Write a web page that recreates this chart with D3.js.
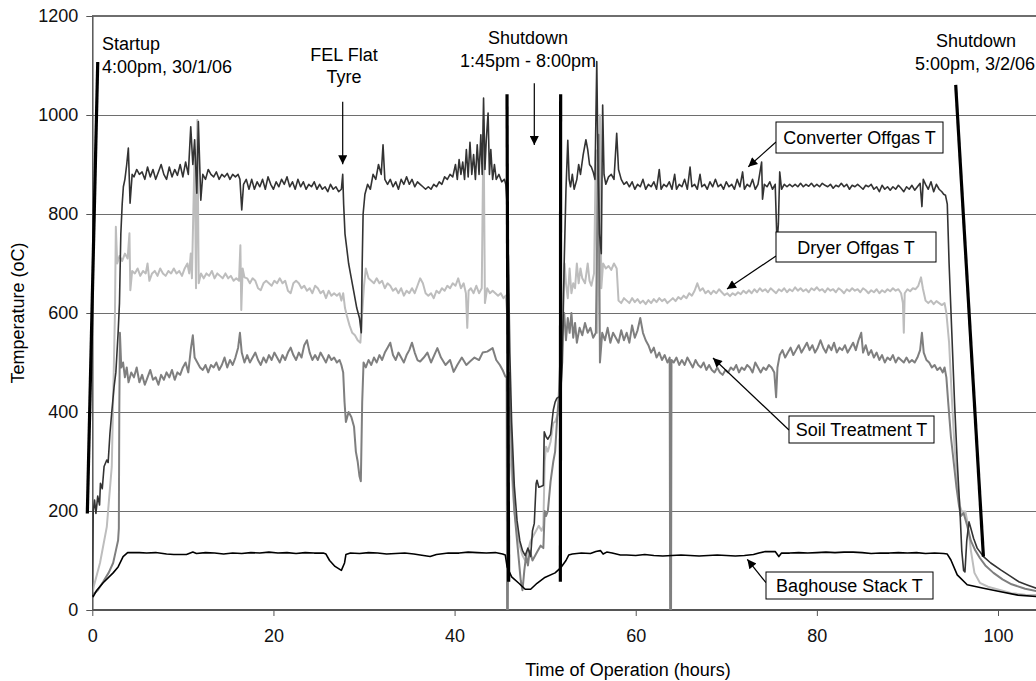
<!DOCTYPE html>
<html>
<head>
<meta charset="utf-8">
<script src="https://cdn.jsdelivr.net/npm/d3@7"></script>
<style>
html,body{margin:0;padding:0;background:#fff;}
svg{display:block;}
text{font-family:"Liberation Sans",Arial,sans-serif;}
</style>
</head>
<body>
<svg id="chart" width="1036" height="681"></svg>
<script>
// ---------------- DATA (hours, °C) ----------------
const yTicks = [0, 200, 400, 600, 800, 1000, 1200];
const xTicks = [0, 20, 40, 60, 80, 100];

const converter = [
[0,30],[0.1,200],[0.25,222],[0.4,195],[0.6,230],[0.8,212],[0.9,256],[1.1,245],[1.3,290],[1.6,303],[1.75,298],[1.95,357],[2.15,400],[2.4,450],[2.6,480],[2.85,560],[3.0,620],[3.15,760],[3.3,820],[3.43,855],[3.6,870],[3.8,900],[3.98,933],[4.17,822],[4.4,880],[4.6,875],[4.9,890],[5.2,880],[5.5,885],[5.8,870],[6.1,895],[6.4,875],[6.7,890],[7.0,870],[7.3,885],[7.6,900],[7.9,880],[8.2,870],[8.5,895],[8.8,875],[9.1,890],[9.4,878],[9.7,900],[10.0,875],[10.3,905],[10.6,880],[10.87,976],[11.1,900],[11.3,950],[11.54,842],[11.71,987],[11.98,828],[12.2,880],[12.5,870],[12.8,890],[13.1,880],[13.4,875],[13.7,885],[14.0,870],[14.3,880],[14.6,875],[14.9,882],[15.2,870],[15.5,880],[15.8,875],[16.1,880],[16.3,870],[16.5,808],[16.7,860],[17.0,870],[17.3,850],[17.6,870],[17.9,850],[18.2,865],[18.5,855],[18.8,870],[19.1,850],[19.4,875],[19.7,860],[20.0,850],[20.3,865],[20.6,855],[20.9,870],[21.2,860],[21.5,875],[21.8,855],[22.1,865],[22.4,850],[22.7,870],[23.0,855],[23.3,865],[23.6,850],[23.9,860],[24.2,855],[24.5,865],[24.8,850],[25.1,860],[25.4,850],[25.7,855],[26.0,845],[26.3,860],[26.6,850],[26.9,855],[27.2,845],[27.5,850],[27.65,880],[27.75,820],[27.9,760],[28.1,730],[28.3,700],[28.6,670],[28.9,640],[29.2,610],[29.5,590],[29.7,560],[29.8,700],[29.9,800],[30.1,840],[30.4,860],[30.7,850],[31.0,880],[31.3,870],[31.6,900],[31.9,880],[32.1,940],[32.3,870],[32.6,860],[32.9,870],[33.2,855],[33.5,865],[33.8,850],[34.1,870],[34.4,860],[34.7,875],[35.0,860],[35.3,870],[35.6,855],[35.9,865],[36.2,860],[36.5,855],[36.8,850],[37.1,855],[37.4,850],[37.7,860],[38.0,855],[38.3,865],[38.6,860],[38.9,875],[39.2,870],[39.5,880],[39.8,875],[40.1,900],[40.3,870],[40.5,910],[40.7,880],[40.9,905],[41.1,870],[41.3,930],[41.5,875],[41.7,945],[41.9,880],[42.1,920],[42.3,870],[42.5,940],[42.7,880],[42.9,960],[43.05,880],[43.2,1034],[43.35,890],[43.5,950],[43.7,1004],[43.85,880],[44.0,930],[44.2,870],[44.4,900],[44.6,870],[44.9,880],[45.2,865],[45.5,870],[45.65,860],[45.8,820],[45.95,700],[46.1,520],[46.3,380],[46.6,250],[46.9,180],[47.2,140],[47.5,120],[47.8,110],[48.1,125],[48.4,108],[48.6,160],[48.8,175],[49.0,255],[49.1,262],[49.3,248],[49.6,250],[49.8,252],[49.9,360],[50.1,350],[50.3,345],[50.6,355],[50.9,404],[51.1,420],[51.3,428],[51.5,430],[51.7,435],[51.9,500],[52.1,700],[52.3,850],[52.5,949],[52.65,870],[52.8,855],[53.0,880],[53.2,850],[53.5,870],[53.7,900],[53.9,880],[54.2,920],[54.5,950],[54.7,930],[54.9,900],[55.1,895],[55.3,885],[55.5,870],[55.7,1108],[55.85,880],[56.0,760],[56.2,720],[56.35,1020],[56.5,880],[56.7,860],[57.0,875],[57.3,880],[57.6,870],[57.9,963],[58.1,890],[58.4,870],[58.7,860],[59.0,865],[59.3,855],[59.6,865],[59.9,850],[60.2,860],[60.5,855],[60.8,870],[61.1,850],[61.4,860],[61.7,855],[62.0,865],[62.3,850],[62.6,890],[62.8,850],[63.1,860],[63.4,855],[63.7,865],[64.0,850],[64.3,880],[64.5,850],[64.8,860],[65.1,855],[65.4,870],[65.7,850],[66.0,895],[66.2,855],[66.5,860],[66.8,850],[67.1,880],[67.3,855],[67.6,860],[67.9,850],[68.2,865],[68.5,855],[68.8,870],[69.1,855],[69.4,860],[69.7,850],[70.0,865],[70.3,855],[70.6,860],[70.9,850],[71.2,870],[71.5,855],[71.8,885],[72.0,850],[72.3,860],[72.6,855],[72.9,870],[73.2,850],[73.5,860],[73.9,905],[74.0,830],[74.2,860],[74.5,855],[74.8,865],[75.1,850],[75.4,860],[75.6,740],[75.75,780],[75.9,885],[76.1,850],[76.4,860],[76.7,855],[77.0,860],[77.3,855],[77.6,860],[77.9,855],[78.2,862],[78.5,855],[78.8,860],[79.1,856],[79.4,862],[79.7,855],[80.0,860],[80.3,855],[80.6,862],[80.9,858],[81.2,855],[81.5,860],[81.8,852],[82.1,858],[82.4,855],[82.7,862],[83.0,855],[83.3,860],[83.6,850],[83.9,858],[84.2,855],[84.5,860],[84.8,855],[85.1,850],[85.4,858],[85.7,855],[86.0,860],[86.3,850],[86.6,855],[86.9,845],[87.2,858],[87.5,850],[87.8,855],[88.1,848],[88.4,855],[88.7,850],[89.0,858],[89.3,852],[89.6,845],[89.9,855],[90.2,850],[90.5,858],[90.8,848],[91.1,855],[91.4,862],[91.6,815],[91.75,870],[92.0,860],[92.3,850],[92.6,865],[92.9,845],[93.2,860],[93.5,850],[93.8,845],[94.0,840],[94.2,838],[94.4,820],[94.6,700],[94.9,560],[95.2,420],[95.5,300],[95.8,200],[96.0,120],[96.2,80],[96.35,77],[96.55,140],[96.8,178],[97.0,165],[97.3,145],[97.7,125],[98.4,108],[99.2,95],[100.3,81],[101.4,68],[102.3,57],[103.3,50],[104.5,42]
];

const dryer = [
[0,30],[0.15,47],[0.85,95],[1.6,168],[2.15,290],[2.3,424],[2.5,600],[2.6,774],[2.75,700],[3.0,715],[3.3,705],[3.6,720],[3.9,710],[4.1,761],[4.2,646],[4.4,685],[4.7,680],[5.0,690],[5.3,675],[5.6,685],[5.9,680],[6.1,700],[6.3,665],[6.6,680],[6.9,685],[7.2,675],[7.5,690],[7.8,680],[8.1,675],[8.4,685],[8.7,680],[9.0,690],[9.3,680],[9.6,685],[9.9,675],[10.2,690],[10.5,700],[10.7,680],[10.87,720],[11.0,670],[11.3,930],[11.45,650],[11.6,990],[11.75,660],[12.0,680],[12.3,670],[12.6,680],[12.9,675],[13.2,685],[13.5,670],[13.8,680],[14.1,675],[14.4,670],[14.7,680],[15.0,670],[15.3,675],[15.6,665],[15.9,670],[16.2,665],[16.35,737],[16.45,606],[16.6,690],[16.8,672],[17.1,670],[17.4,660],[17.7,670],[18.0,665],[18.3,650],[18.6,646],[18.9,660],[19.2,665],[19.5,660],[19.8,655],[20.1,665],[20.4,660],[20.7,670],[21.0,660],[21.3,665],[21.6,645],[21.9,640],[22.2,660],[22.5,665],[22.8,660],[23.1,650],[23.4,655],[23.7,645],[24.0,650],[24.3,640],[24.6,655],[24.9,650],[25.2,640],[25.5,645],[25.8,630],[26.1,645],[26.4,635],[26.7,640],[27.0,635],[27.3,640],[27.5,625],[27.7,640],[27.9,610],[28.1,595],[28.4,575],[28.7,560],[29.0,555],[29.3,545],[29.6,540],[29.8,600],[30.0,655],[30.2,690],[30.5,670],[30.8,665],[31.1,660],[31.4,670],[31.7,660],[32.0,665],[32.3,650],[32.6,660],[32.9,655],[33.2,645],[33.5,650],[33.8,640],[34.1,650],[34.4,635],[34.7,645],[35.0,640],[35.3,650],[35.6,640],[35.9,655],[36.2,670],[36.5,660],[36.8,640],[37.1,635],[37.4,640],[37.7,630],[38.0,645],[38.3,640],[38.6,650],[38.9,645],[39.2,655],[39.5,650],[39.8,660],[40.1,655],[40.4,670],[40.7,650],[41.0,660],[41.25,640],[41.4,570],[41.55,645],[41.8,650],[42.1,640],[42.4,655],[42.7,640],[43.0,650],[43.2,990],[43.35,620],[43.6,650],[43.9,640],[44.2,645],[44.5,640],[44.8,635],[45.1,640],[45.4,630],[45.65,635],[45.8,600],[45.9,420],[46.05,350],[46.2,300],[46.4,250],[46.6,200],[46.9,160],[47.2,130],[47.5,110],[47.8,100],[48.1,120],[48.4,140],[48.7,150],[49.0,160],[49.3,170],[49.6,160],[49.8,170],[49.95,300],[50.1,330],[50.3,320],[50.6,340],[50.9,378],[51.1,380],[51.3,390],[51.5,400],[51.7,420],[51.85,500],[52.0,640],[52.15,700],[52.3,660],[52.5,630],[52.7,690],[52.9,640],[53.1,660],[53.3,650],[53.5,700],[53.7,660],[53.9,690],[54.1,670],[54.4,660],[54.7,700],[54.9,665],[55.1,655],[55.4,680],[55.6,929],[55.75,560],[55.9,700],[56.05,1000],[56.2,650],[56.4,700],[56.7,690],[57.0,695],[57.3,687],[57.6,700],[57.9,690],[58.1,625],[58.4,620],[58.7,630],[59.0,625],[59.3,620],[59.6,630],[59.9,622],[60.2,628],[60.5,620],[60.8,625],[61.1,618],[61.4,626],[61.7,620],[62.0,628],[62.3,622],[62.6,630],[62.9,624],[63.2,628],[63.5,620],[63.8,625],[64.1,630],[64.4,624],[64.7,632],[65.0,628],[65.3,635],[65.6,630],[65.9,640],[66.2,635],[66.5,645],[66.8,660],[67.1,645],[67.4,650],[67.7,640],[68.0,645],[68.3,638],[68.6,645],[68.9,640],[69.2,648],[69.5,642],[69.8,636],[70.1,640],[70.4,634],[70.7,640],[71.0,636],[71.3,642],[71.6,638],[71.9,645],[72.2,640],[72.5,646],[72.8,640],[73.1,648],[73.4,642],[73.7,650],[74.0,644],[74.3,648],[74.6,642],[74.9,650],[75.2,645],[75.5,640],[75.8,648],[76.1,644],[76.4,650],[76.7,642],[77.0,648],[77.3,644],[77.6,652],[77.9,645],[78.2,650],[78.5,644],[78.8,648],[79.1,642],[79.4,650],[79.7,646],[80.0,652],[80.3,645],[80.6,648],[80.9,642],[81.2,650],[81.5,645],[81.8,648],[82.1,642],[82.4,650],[82.7,646],[83.0,640],[83.3,648],[83.6,644],[83.9,650],[84.2,645],[84.5,648],[84.8,642],[85.1,650],[85.4,646],[85.7,640],[86.0,646],[86.3,642],[86.6,648],[86.9,640],[87.2,646],[87.5,642],[87.8,648],[88.1,644],[88.4,650],[88.7,645],[89.0,648],[89.3,640],[89.5,620],[89.6,560],[89.7,640],[90.0,648],[90.3,644],[90.6,650],[90.9,648],[91.2,655],[91.5,672],[91.7,650],[92.0,625],[92.3,620],[92.6,625],[92.9,618],[93.2,624],[93.5,620],[93.8,616],[94.1,620],[94.3,600],[94.6,540],[94.9,430],[95.2,330],[95.5,260],[95.8,210],[96.0,199],[96.4,199],[96.7,170],[97.0,121],[97.4,75],[98.0,55],[98.9,47],[100.3,40],[101.5,34],[103,31],[104.5,30]
];

const soil = [
[0,30],[0.6,40],[1.2,57],[1.8,75],[2.3,95],[2.6,120],[2.85,141],[2.93,165],[2.98,400],[3.05,560],[3.2,490],[3.4,500],[3.6,470],[3.8,490],[4.0,460],[4.3,480],[4.6,470],[4.9,490],[5.2,460],[5.5,475],[5.8,455],[6.1,470],[6.4,485],[6.7,465],[7.0,470],[7.3,455],[7.6,475],[7.9,465],[8.2,480],[8.5,470],[8.8,485],[9.1,465],[9.4,480],[9.7,475],[10.0,490],[10.3,500],[10.6,480],[10.9,530],[11.1,555],[11.3,510],[11.6,500],[11.9,490],[12.2,485],[12.5,495],[12.8,480],[13.1,495],[13.4,490],[13.7,500],[14.0,485],[14.3,495],[14.6,510],[14.9,490],[15.2,505],[15.5,495],[15.8,510],[16.1,530],[16.3,560],[16.5,520],[16.8,500],[17.1,515],[17.4,500],[17.7,510],[18.0,520],[18.3,505],[18.6,495],[18.9,510],[19.2,500],[19.5,515],[19.8,505],[20.1,520],[20.4,510],[20.7,500],[21.0,515],[21.3,505],[21.6,520],[21.9,530],[22.2,515],[22.5,505],[22.8,520],[23.1,510],[23.4,535],[23.7,545],[24.0,520],[24.3,505],[24.6,515],[24.9,505],[25.2,520],[25.5,510],[25.8,500],[26.1,515],[26.4,505],[26.7,510],[27.0,500],[27.3,505],[27.5,495],[27.7,480],[27.85,420],[28.0,380],[28.3,400],[28.6,390],[28.9,370],[29.1,320],[29.3,300],[29.5,270],[29.65,260],[29.8,420],[29.95,500],[30.2,490],[30.5,505],[30.8,495],[31.1,510],[31.4,500],[31.7,515],[32.0,505],[32.3,520],[32.6,530],[32.9,540],[33.2,515],[33.5,505],[33.8,520],[34.1,510],[34.4,500],[34.7,515],[35.0,525],[35.3,540],[35.6,520],[35.9,505],[36.2,502],[36.6,510],[37.0,520],[37.4,500],[38.1,529],[38.5,510],[39.0,495],[39.5,505],[39.9,481],[40.3,495],[40.8,510],[41.3,495],[41.7,502],[42.2,510],[42.7,505],[43.1,520],[43.6,522],[44.2,529],[44.6,505],[45.0,495],[45.3,485],[45.6,472],[45.75,470],[45.8,0],[45.88,0],[45.95,470],[46.05,479],[46.2,380],[46.4,280],[46.6,200],[46.9,140],[47.1,100],[47.3,60],[47.5,40],[47.7,80],[47.9,110],[48.1,90],[48.3,120],[48.6,100],[48.9,110],[49.2,120],[49.5,130],[49.8,125],[49.95,200],[50.1,190],[50.3,200],[50.6,260],[50.9,300],[51.1,320],[51.3,380],[51.5,430],[51.7,520],[51.9,560],[52.1,600],[52.3,545],[52.5,590],[52.7,560],[52.9,600],[53.1,550],[53.3,580],[53.5,540],[53.8,570],[54.1,555],[54.4,580],[54.7,560],[55.0,570],[55.3,550],[55.6,560],[55.9,960],[56.05,500],[56.3,560],[56.6,545],[56.9,570],[57.2,540],[57.5,560],[57.8,550],[58.1,540],[58.4,565],[58.7,545],[59.0,560],[59.3,540],[59.6,575],[59.9,550],[60.2,565],[60.5,590],[60.8,560],[61.1,545],[61.4,535],[61.7,520],[62.0,530],[62.3,510],[62.6,520],[62.9,505],[63.2,515],[63.5,500],[63.75,510],[63.8,0],[63.9,0],[63.95,505],[64.2,500],[64.5,510],[64.8,495],[65.1,505],[65.4,495],[65.7,510],[66.0,500],[66.3,490],[66.6,505],[66.9,495],[67.2,490],[67.5,500],[67.8,485],[68.1,495],[68.4,485],[68.7,480],[69.0,490],[69.3,480],[69.6,475],[69.9,485],[70.2,480],[70.5,490],[70.8,485],[71.1,495],[71.4,480],[71.7,490],[72.0,485],[72.3,495],[72.6,490],[72.9,480],[73.2,500],[73.5,490],[73.8,480],[74.1,490],[74.4,485],[74.7,495],[75.0,490],[75.3,480],[75.5,430],[75.65,490],[75.9,515],[76.2,525],[76.5,510],[76.8,520],[77.1,530],[77.4,515],[77.7,525],[78.0,535],[78.3,520],[78.6,530],[78.9,540],[79.2,525],[79.5,535],[79.8,520],[80.1,530],[80.4,545],[80.7,530],[81.0,520],[81.3,535],[81.6,525],[81.9,540],[82.2,520],[82.5,530],[82.8,525],[83.1,535],[83.4,520],[83.7,530],[84.0,540],[84.3,525],[84.6,545],[84.9,560],[85.1,520],[85.4,535],[85.7,515],[86.0,525],[86.3,510],[86.6,520],[86.9,505],[87.2,515],[87.5,500],[87.8,510],[88.1,505],[88.4,515],[88.7,500],[89.0,510],[89.3,505],[89.6,500],[89.9,510],[90.2,500],[90.5,505],[90.8,500],[91.1,510],[91.4,525],[91.6,560],[91.8,520],[92.1,505],[92.4,500],[92.7,490],[93.0,495],[93.3,485],[93.6,490],[93.9,480],[94.1,490],[94.3,470],[94.5,420],[94.8,350],[95.1,300],[95.4,250],[95.7,210],[95.9,190],[96.2,196],[96.6,170],[97.0,140],[97.5,120],[98.0,105],[98.6,90],[99.5,75],[100.5,62],[101.5,52],[103,43],[104.5,37]
];

const baghouse = [
[0,30],[0.1,27],[0.5,40],[1.2,55],[2.3,75],[2.85,87],[3.4,108],[3.9,116],[5.2,116],[6.0,115],[7.0,116],[8.2,113],[9.0,112],[10.4,112],[11.1,117],[11.5,114],[12.5,116],[13.5,115],[14.5,113],[15.5,115],[16.5,114],[17.5,116],[18.5,115],[19.5,117],[20.5,115],[21.5,116],[22.5,114],[23.5,116],[24.5,115],[25.5,115],[25.8,113],[26.2,100],[26.8,88],[27.5,80],[27.85,95],[28.0,112],[28.5,115],[29.5,114],[30.5,116],[31.5,115],[32.5,113],[33.5,114],[34.5,115],[35.5,113],[36.2,111],[37.3,108],[38.0,112],[39.3,115],[40.5,115],[41.5,117],[42.5,116],[43.5,115],[44.5,116],[45.3,113],[45.6,111],[45.8,87],[46.3,67],[47.1,54],[47.8,42],[48.4,42],[49.1,54],[49.9,65],[51.1,75],[51.7,85],[52.3,100],[52.6,111],[53.0,113],[54.0,115],[55.0,114],[55.6,118],[56.1,120],[56.4,113],[56.8,117],[57.4,115],[58.3,111],[59.0,111],[60.0,110],[61.0,112],[62.0,110],[63.0,109],[64.0,110],[65.0,111],[66.0,110],[67.0,109],[68.0,110],[69.0,111],[70.0,110],[71.0,109],[72.0,110],[73.0,112],[73.6,115],[74.3,118],[75.4,118],[75.8,108],[76.1,115],[77.0,115],[78.0,116],[79.0,115],[80.0,116],[81.0,117],[82.0,116],[83.0,117],[84.0,117],[85.0,116],[86.0,114],[87.0,115],[88.0,115],[89.0,116],[90.0,115],[91.0,116],[92.0,114],[93.0,115],[94.0,114],[94.4,113],[94.8,101],[95.5,71],[96.6,51],[98.4,44],[100.3,37],[102.2,30],[104.5,27]
];

// heavy marker lines [t1, v1, t2, v2]
const eventLines = [
  [-0.55, 195, 0.6, 1107],
  [45.79, 1042, 45.97, 57],
  [51.71, 1042, 51.68, 57],
  [95.33, 1061, 98.39, 108]
];

const seriesLabels = ["Converter Offgas T", "Dryer Offgas T", "Soil Treatment T", "Baghouse Stack T"];

// ---------------- CHART ----------------
const svg = d3.select("#chart");
const W = 1036, H = 681;
const x = d3.scaleLinear().domain([0, 100]).range([92.3, 998]);
const y = d3.scaleLinear().domain([0, 1200]).range([610, 16]);
const FONT = "18px";

svg.append("rect").attr("width", W).attr("height", H).attr("fill", "#fff");

const defs = svg.append("defs");
defs.append("clipPath").attr("id", "clip")
  .append("rect").attr("x", x(0)).attr("y", 0).attr("width", W - x(0)).attr("height", y(0));
defs.append("marker").attr("id", "arr")
  .attr("viewBox", "0 0 10 10").attr("refX", 10).attr("refY", 5)
  .attr("markerWidth", 11).attr("markerHeight", 9).attr("markerUnits", "userSpaceOnUse")
  .attr("orient", "auto")
  .append("path").attr("d", "M0,0 L10,5 L0,10 Z").attr("fill", "#000");

// gridlines
svg.append("g").selectAll("line").data(yTicks.filter(d => d > 0)).join("line")
  .attr("x1", x(0)).attr("x2", W).attr("y1", d => y(d)).attr("y2", d => y(d))
  .attr("stroke", "#6e6e6e").attr("stroke-width", d => d === 1200 ? 1.5 : 1)
  .attr("shape-rendering", "crispEdges");

// y axis
const yAxis = d3.axisLeft(y).tickValues(yTicks).tickFormat(d3.format("d"))
  .tickSize(6).tickSizeOuter(0).tickPadding(8);
const gy = svg.append("g").attr("transform", `translate(${x(0)},0)`).call(yAxis);
gy.select(".domain").attr("stroke", "#555").attr("stroke-width", 1.5);
gy.selectAll(".tick line").attr("stroke", "#555");
gy.selectAll("text").style("font-size", FONT).attr("fill", "#111")
  .style("font-family", "Liberation Sans, Arial, sans-serif");

// x axis
const xAxis = d3.axisBottom(x).tickValues(xTicks).tickFormat(d3.format("d"))
  .tickSize(6).tickSizeOuter(0).tickPadding(13);
const gx = svg.append("g").attr("transform", `translate(0,${y(0)})`).call(xAxis);
gx.select(".domain").remove();
gx.selectAll(".tick line").attr("stroke", "#555");
gx.selectAll("text").style("font-size", FONT).attr("fill", "#111")
  .style("font-family", "Liberation Sans, Arial, sans-serif");
svg.append("line").attr("x1", x(0)).attr("x2", W).attr("y1", y(0)).attr("y2", y(0))
  .attr("stroke", "#555").attr("stroke-width", 2);

// axis titles
svg.append("text").attr("x", 628).attr("y", 676).attr("text-anchor", "middle")
  .style("font-size", FONT).text("Time of Operation (hours)");
svg.append("text").attr("transform", "translate(24,313) rotate(-90)").attr("text-anchor", "middle")
  .style("font-size", FONT).text("Temperature (oC)");

// series
const line = d3.line().x(d => x(d[0])).y(d => y(d[1]));
const plot = svg.append("g").attr("clip-path", "url(#clip)");
const series = [
  {data: dryer, color: "#bdbdbd", w: 2},
  {data: soil, color: "#7f7f7f", w: 2},
  {data: converter, color: "#333333", w: 1.6},
  {data: baghouse, color: "#000000", w: 1.6}
];
series.forEach(s => {
  plot.append("path").datum(s.data).attr("d", line)
    .attr("fill", "none").attr("stroke", s.color).attr("stroke-width", s.w)
    .attr("stroke-linejoin", "round");
});

// heavy event lines
svg.append("g").selectAll("line").data(eventLines).join("line")
  .attr("x1", d => x(d[0])).attr("y1", d => y(d[1]))
  .attr("x2", d => x(d[2])).attr("y2", d => y(d[3]))
  .attr("stroke", "#000").attr("stroke-width", 3.2);

// annotation text
const ann = svg.append("g").style("font-size", FONT).attr("fill", "#000");
function txt(xp, yp, s, anchor) {
  ann.append("text").attr("x", xp).attr("y", yp).attr("text-anchor", anchor || "start").text(s);
}
txt(102, 50, "Startup");
txt(102, 73, "4:00pm, 30/1/06");
txt(344, 61, "FEL Flat", "middle");
txt(344, 83, "Tyre", "middle");
txt(528, 44, "Shutdown", "middle");
txt(528, 67, "1:45pm - 8:00pm", "middle");
txt(976, 47, "Shutdown", "middle");
txt(975, 70, "5:00pm, 3/2/06", "middle");

// arrows
const arrows = [
  [342.7, 101.7, 342.7, 164.3],
  [534.3, 83.3, 534.3, 145],
  [776, 142, 748.3, 166.7],
  [776, 256, 727, 289],
  [789, 430, 713, 358],
  [766, 582.7, 747.3, 559.3]
];
svg.append("g").selectAll("line").data(arrows).join("line")
  .attr("x1", d => d[0]).attr("y1", d => d[1]).attr("x2", d => d[2]).attr("y2", d => d[3])
  .attr("stroke", "#000").attr("stroke-width", 1.2).attr("marker-end", "url(#arr)");

// label boxes
const boxes = [
  {x: 776, y: 122, w: 167, h: 31, t: seriesLabels[0]},
  {x: 776, y: 232, w: 160, h: 30, t: seriesLabels[1]},
  {x: 789, y: 416, w: 145, h: 27, t: seriesLabels[2]},
  {x: 766, y: 572, w: 167, h: 27, t: seriesLabels[3]}
];
const bg = svg.append("g");
boxes.forEach(b => {
  bg.append("rect").attr("x", b.x).attr("y", b.y).attr("width", b.w).attr("height", b.h)
    .attr("fill", "#fff").attr("stroke", "#000").attr("stroke-width", 1);
  bg.append("text").attr("x", b.x + b.w / 2).attr("y", b.y + b.h / 2 + 6.5)
    .attr("text-anchor", "middle").style("font-size", FONT).text(b.t);
});
</script>
</body>
</html>
